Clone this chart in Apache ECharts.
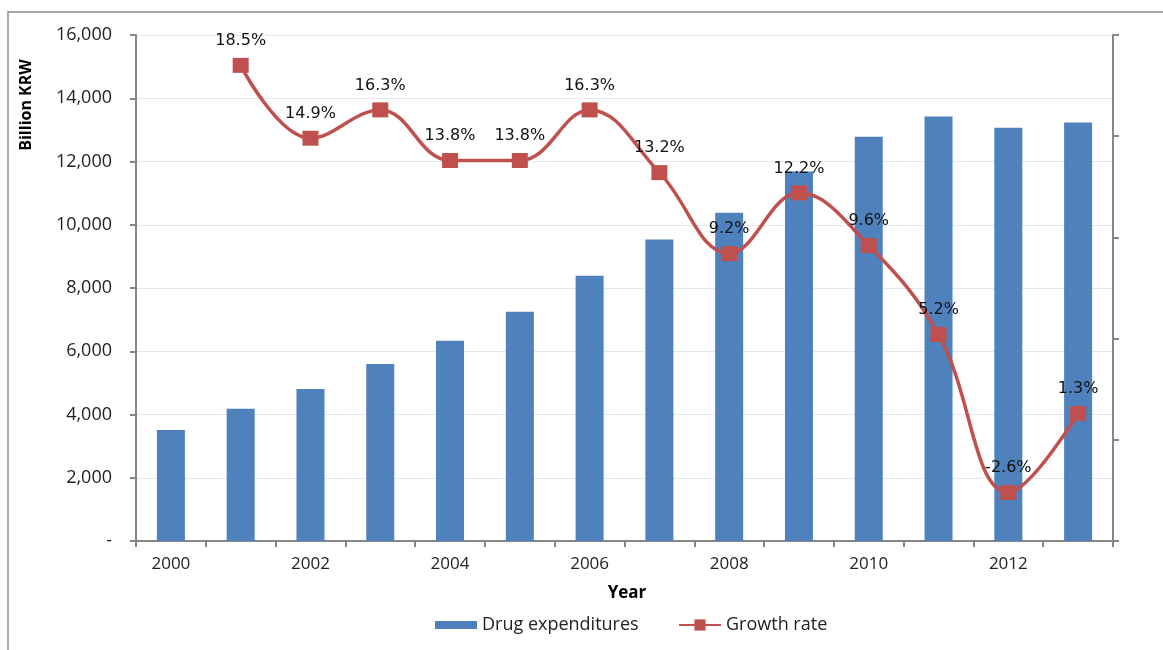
<!DOCTYPE html>
<html>
<head>
<meta charset="utf-8">
<script src="https://cdn.jsdelivr.net/npm/echarts@6/dist/echarts.min.js"></script>
<style>
html,body{margin:0;padding:0;background:#fff;}
#c{width:1163px;height:650px;}
</style>
</head>
<body>
<div id="c"></div>
<script>
const years = ['2000','2001','2002','2003','2004','2005','2006','2007','2008','2009','2010','2011','2012','2013'];
const drugExpenditures = [3510, 4180, 4810, 5600, 6330, 7250, 8390, 9530, 10380, 11680, 12780, 13420, 13070, 13230];
const growthRate = [null, 18.5, 14.9, 16.3, 13.8, 13.8, 16.3, 13.2, 9.2, 12.2, 9.6, 5.2, -2.6, 1.3];

const chart = echarts.init(document.getElementById('c'));
const axisGray = '#868686';
chart.setOption({
  animation: false,
  graphic: [
    { type: 'rect', shape: { x: 8, y: 12, width: 1300, height: 800 }, style: { fill: 'none', stroke: '#8c8c8c', lineWidth: 1.5 } },
    { type: 'text', x: 26, y: 105, rotation: Math.PI / 2, style: { text: 'Billion KRW', font: 'bold 16px "Open Sans"', fill: '#000', textAlign: 'center', textVerticalAlign: 'middle' } },
    { type: 'text', x: 627, y: 593, style: { text: 'Year', font: 'bold 17px "Open Sans"', fill: '#000', textAlign: 'center', textVerticalAlign: 'middle' } }
  ],
  grid: { left: 136, right: 50, top: 35, bottom: 109, containLabel: false },
  legend: [
    { data: ['Drug expenditures'], left: 430, top: 611, itemWidth: 42, itemHeight: 8, itemGap: 6, icon: 'rect',
      textStyle: { fontFamily: 'Open Sans', fontSize: 18, color: '#222' } },
    { data: ['Growth rate'], left: 673, top: 611, itemWidth: 42, itemHeight: 14, itemGap: 6,
      textStyle: { fontFamily: 'Open Sans', fontSize: 18, color: '#222' } }
  ],
  xAxis: {
    type: 'category', data: years, boundaryGap: true,
    axisLine: { lineStyle: { color: axisGray, width: 2 } },
    axisTick: { show: true, length: 6, alignWithLabel: false, interval: 0, lineStyle: { color: axisGray, width: 2 } },
    axisLabel: { interval: 1, margin: 15, fontFamily: 'Open Sans', fontSize: 17, color: '#222' },
    splitLine: { show: false }
  },
  yAxis: [
    {
      type: 'value', min: 0, max: 16000, interval: 2000,
      axisLine: { show: true, lineStyle: { color: axisGray, width: 2 } },
      axisTick: { show: true, length: 6, lineStyle: { color: axisGray, width: 2 } },
      axisLabel: { margin: 24, fontFamily: 'Open Sans', fontSize: 18, color: '#222',
        formatter: v => v === 0 ? '-' : v.toLocaleString('en-US') },
      splitLine: { show: true, lineStyle: { color: '#e1e8f3', width: 1 } }
    },
    {
      type: 'value', min: -5, max: 20, interval: 5, position: 'right',
      axisLine: { show: true, lineStyle: { color: axisGray, width: 2 } },
      axisTick: { show: true, length: 6, lineStyle: { color: axisGray, width: 2 } },
      axisLabel: { show: false },
      splitLine: { show: false }
    }
  ],
  series: [
    {
      name: 'Drug expenditures', type: 'bar', data: drugExpenditures, barWidth: 28,
      itemStyle: { color: '#4f81bd' }, z: 2
    },
    {
      name: 'Growth rate', type: 'line', yAxisIndex: 1, data: growthRate, smooth: 0.4,
      symbol: 'rect', symbolSize: [16, 15],
      lineStyle: { color: '#c0504d', width: 3.5 },
      itemStyle: { color: '#c0504d' },
      label: { show: true, position: 'top', distance: 9, fontFamily: 'DejaVu Sans', fontSize: 16, color: '#111',
        formatter: p => p.value.toFixed(1) + '%' },
      z: 3
    }
  ]
});
</script>
</body>
</html>
